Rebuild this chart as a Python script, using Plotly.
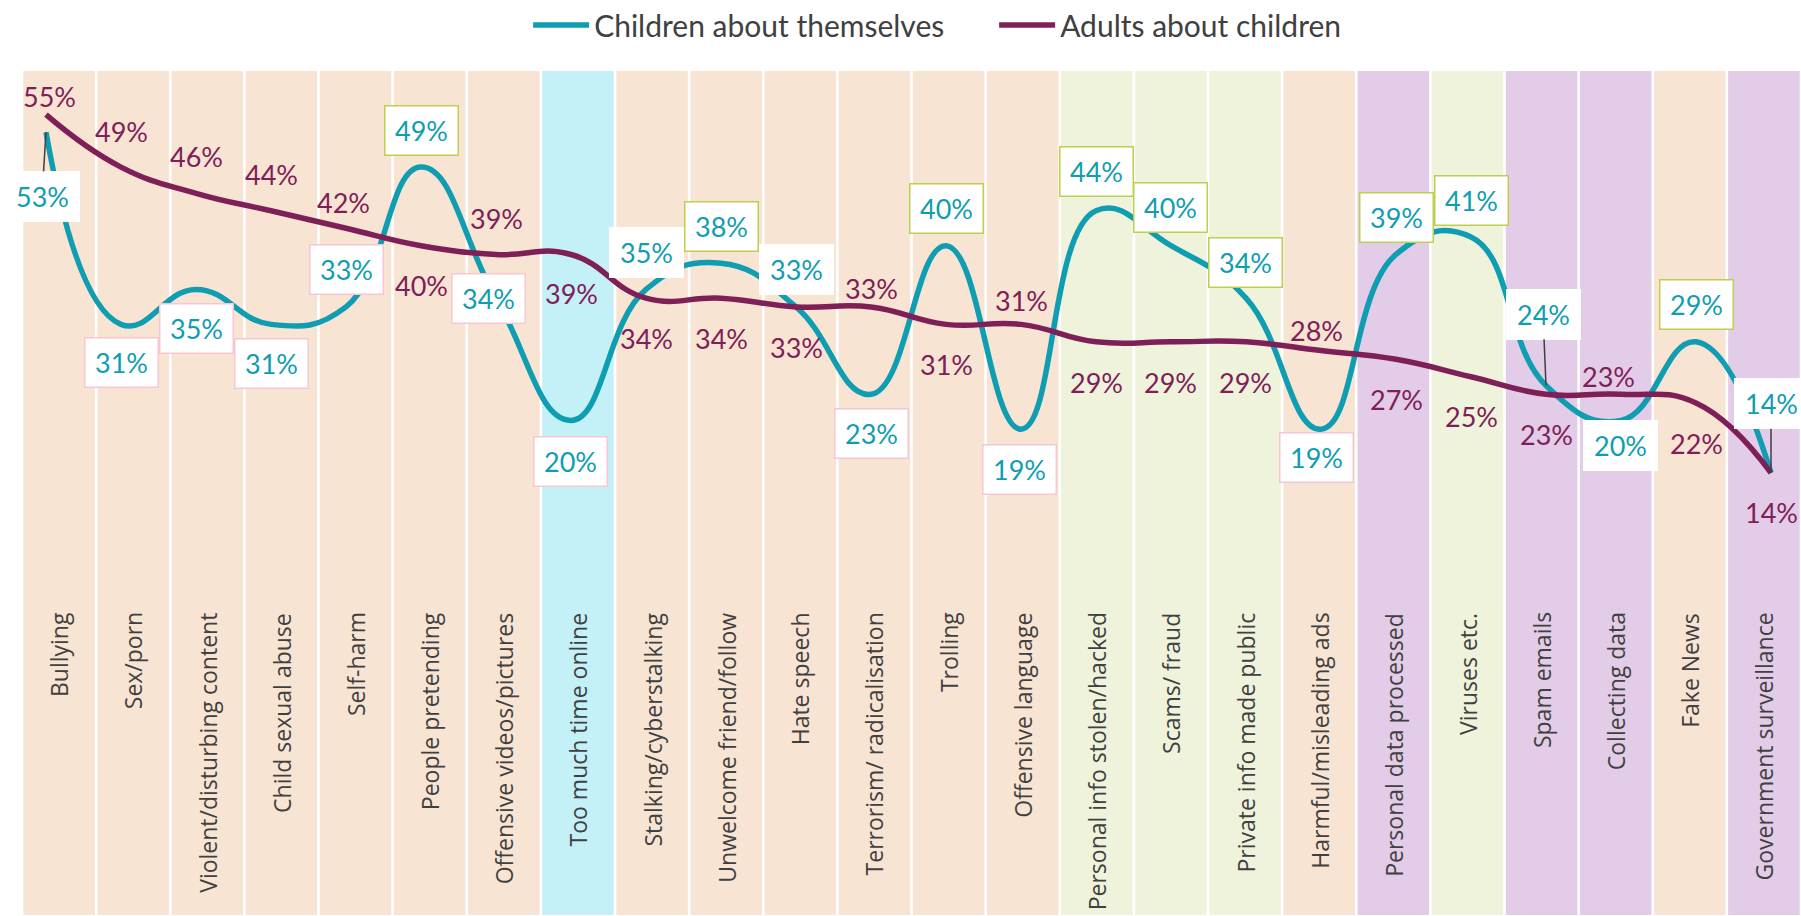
import plotly.graph_objects as go

# ---------------- data ----------------
categories = [
    "Bullying", "Sex/porn", "Violent/disturbing content", "Child sexual abuse",
    "Self-harm", "People pretending", "Offensive videos/pictures",
    "Too much time online", "Stalking/cyberstalking", "Unwelcome friend/follow",
    "Hate speech", "Terrorism/ radicalisation", "Trolling", "Offensive language",
    "Personal info stolen/hacked", "Scams/ fraud", "Private info made public",
    "Harmful/misleading ads", "Personal data processed", "Viruses etc.",
    "Spam emails", "Collecting data", "Fake News", "Government surveillance",
]
children = [53, 31, 35, 31, 33, 49, 34, 20, 35, 38, 33, 23, 40, 19, 44, 40, 34, 19, 39, 41, 24, 20, 29, 14]
adults = [55, 49, 46, 44, 42, 40, 39, 39, 34, 34, 33, 33, 31, 31, 29, 29, 29, 28, 27, 25, 23, 23, 22, 14]
category_group = [
    "content", "content", "content", "content", "content", "content", "content",
    "time", "content", "content", "content", "content", "content", "content",
    "security", "security", "security", "content", "data", "security",
    "data", "data", "content", "data",
]

# ---------------- styles ----------------
TEAL = "#0F9DB2"
PLUM = "#7E2057"
GREEN_BORDER = "#BDD04E"
PINK_BORDER = "#F6C6D3"
TEXT_GREY = "#404040"
group_colors = {"content": "#F8E4D3", "time": "#C4F1F8", "security": "#EFF3DC", "data": "#E2CCE7"}

Y_MIN, Y_MAX = -36.6, 60
LABEL_FONT = dict(family="Lato", size=27)

# label offsets in pixels (dx right, dy down) from each point
child_offsets = [(-4, 64), (0, 38), (0, 39), (0, 39), (0, -37), (0, -37), (-8, 0), (-1, 41),
                 (0, -37), (0, -37), (0, -37), (0, 39), (0, -37), (-2, 40), (0, -39), (-1, -38),
                 (-1, -36), (-5, 28), (0, -37), (0, -37), (-3, -71), (-1, 25), (0, -37), (0, -69)]
child_leader = {0, 20, 23}
adult_offsets = [(3, -18), (0, -36), (0, -37), (0, -36), (-3, -26), (0, 40), (0, -36), (0, 39),
                 (0, 40), (0, 40), (0, 41), (0, -18), (0, 40), (0, -24), (0, 41), (-1, 41),
                 (-1, 41), (-5, -20), (0, 40), (0, 40), (0, 40), (-13, -18), (0, 40), (0, 40)]

idx = list(range(len(categories)))

fig = go.Figure()

# background column bands
fig.add_trace(go.Bar(
    x=idx, y=[Y_MAX - Y_MIN] * len(idx), base=Y_MIN,
    marker=dict(color=[group_colors[g] for g in category_group], line=dict(width=0)),
    showlegend=False, hoverinfo="skip", xaxis="x", yaxis="y",
))

fig.add_trace(go.Scatter(
    x=idx, y=children, mode="lines", name="Children about themselves",
    line=dict(color=TEAL, width=5.5, shape="spline", smoothing=1.3),
    xaxis="x2", yaxis="y",
))
fig.add_trace(go.Scatter(
    x=idx, y=adults, mode="lines", name="Adults about children",
    line=dict(color=PLUM, width=5.5, shape="spline", smoothing=1.3),
    xaxis="x2", yaxis="y",
))

annotations = []
# category labels (rotated, inside the bands)
for i, name in enumerate(categories):
    annotations.append(dict(
        x=i, y=-1.75, xref="x", yref="y", text=name, showarrow=False,
        textangle=-90, xanchor="center", yanchor="top",
        font=dict(family="Open Sans", size=23, color=TEXT_GREY),
    ))

# adult data labels
for i, (v, (dx, dy)) in enumerate(zip(adults, adult_offsets)):
    annotations.append(dict(
        x=i, y=v, xref="x2", yref="y", text=f"{v}%", showarrow=False,
        xshift=dx, yshift=-dy, font=dict(color=PLUM, **LABEL_FONT),
    ))

# children data labels (boxed)
for i, (v, (dx, dy)) in enumerate(zip(children, child_offsets)):
    diff = v - adults[i]
    border = GREEN_BORDER if diff >= 4 else PINK_BORDER if diff <= -4 else "white"
    base = dict(
        x=i, y=v, xref="x2", yref="y", text=f"{v}%",
        font=dict(color=TEAL, **LABEL_FONT), bgcolor="white",
        bordercolor=border, borderwidth=1.5, borderpad=8, width=56, height=32,
    )
    if i in child_leader:
        base.update(showarrow=True, arrowhead=0, arrowwidth=1.5, arrowcolor=TEXT_GREY,
                    ax=dx, ay=dy, standoff=0)
    else:
        base.update(showarrow=False, xshift=dx, yshift=-dy)
    annotations.append(base)

fig.update_layout(
    width=1801, height=916,
    margin=dict(l=22, r=0, t=71, b=1, autoexpand=False),
    paper_bgcolor="white", plot_bgcolor="white",
    bargap=0.035,
    xaxis=dict(range=[-0.5, 23.5], visible=False, fixedrange=True),
    xaxis2=dict(range=[-0.32, 23.4], overlaying="x", visible=False, fixedrange=True),
    yaxis=dict(range=[Y_MIN, Y_MAX], visible=False, fixedrange=True),
    legend=dict(
        orientation="h", x=0.2845, xanchor="left", y=1.0545, yanchor="middle",
        font=dict(family="Lato", size=30, color=TEXT_GREY), bgcolor="rgba(0,0,0,0)",
        itemwidth=56, entrywidth=395, entrywidthmode="pixels",
    ),
    annotations=annotations,
    hovermode=False,
)

fig.write_html(
    "out.html",
    config={"displayModeBar": False},
    post_script=(
        "document.body.style.margin='0';document.body.style.overflow='hidden';"
        "document.documentElement.style.overflow='hidden';"
    ),
)
